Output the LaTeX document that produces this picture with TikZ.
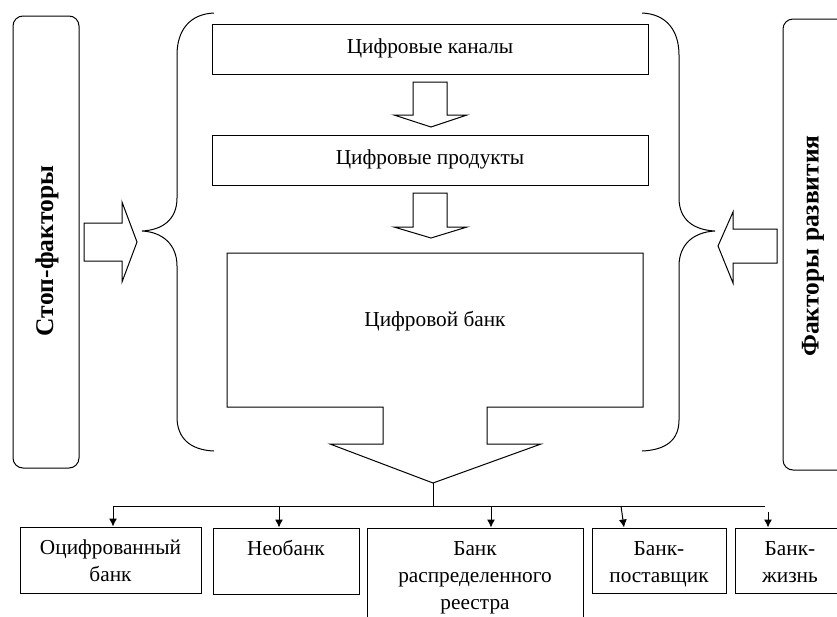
\documentclass[tikz,border=0pt]{standalone}
\usepackage{fontspec}
\setmainfont{Liberation Serif}
\usetikzlibrary{arrows.meta}
\begin{document}
\begin{tikzpicture}[x=1pt,y=-1pt, line width=1pt,
  box/.style={draw, rectangle, inner sep=0pt},
  rbox/.style={draw, rectangle, rounded corners=10pt, inner sep=0pt},
  lbl/.style={font=\fontsize{21.3}{27}\selectfont, align=center, inner sep=0pt},
  vlbl/.style={font=\fontsize{25.5}{29}\selectfont\bfseries, rotate=90, inner sep=0pt},
  conn/.style={-{Latex[length=8pt,width=8pt]}},
  blk/.style={draw, fill=white, line join=miter},
  brace/.style={draw}]
\useasboundingbox (0,0) rectangle (837,616);
\clip (0,0) rectangle (837,616);

% side boxes
\node[rbox, minimum width=66pt, minimum height=452pt] (stop) at (46,242) {};
\node[vlbl] (stoptxt) at (47,251) {Стоп-факторы};
\node[rbox, minimum width=72pt, minimum height=451pt] (dev) at (819,244.5) {};
\node[vlbl] (devtxt) at (813,246) {Факторы развития};

% braces
\draw[brace] (214,13) .. controls (190,14) and (177,30) .. (177,55) -- (177,198)
  .. controls (177,220) and (162,230) .. (142,231)
  .. controls (162,232) and (177,244) .. (177,266) -- (177,417)
  .. controls (177,438) and (190,450) .. (214,451);
\draw[brace] (642,13) .. controls (666,14) and (679,30) .. (679,55) -- (679,198)
  .. controls (679,220) and (694,230) .. (715,231)
  .. controls (694,232) and (679,244) .. (679,266) -- (679,420)
  .. controls (679,440) and (666,450) .. (642,451);

% block arrows left / right
\draw[blk] (84,223) -- (122,223) -- (122,202) -- (137,242) -- (122,282) -- (122,261) -- (84,261) -- cycle;
\draw[blk] (777,229) -- (733,229) -- (733,212) -- (718,246) -- (733,283) -- (733,263) -- (777,263) -- cycle;

% top boxes
\node[box, minimum width=436pt, minimum height=50pt] (chan) at (430,49) {};
\node[lbl] (chantxt) at (430,48) {Цифровые каналы};
\node[box, minimum width=436pt, minimum height=50pt] (prod) at (430,160) {};
\node[lbl] (prodtxt) at (430,159) {Цифровые продукты};

% down block arrows
\draw[blk] (413,82) -- (447,82) -- (447,115) -- (467,115) -- (431,127) -- (394,115) -- (413,115) -- cycle;
\draw[blk] (413,193) -- (447,193) -- (447,227) -- (467,227) -- (431,238) -- (394,227) -- (413,227) -- cycle;

% digital bank
\coordinate (tip) at (433,483);
\draw[blk] (227,253) -- (643,253) -- (643,407) -- (487,407) -- (487,444) -- (541,444) -- (tip)
  -- (330,444) -- (383,444) -- (383,407) -- (227,407) -- cycle;
\node[lbl, anchor=base] (banktxt) at (435,326) {Цифровой банк};

% distribution
\coordinate (split) at (433,506);
\coordinate (hl) at (113,506);
\coordinate (hr) at (765,506);
\coordinate (a2) at (279,506);
\coordinate (a3) at (491,506);
\coordinate (a4) at (621,506);
\coordinate (a5) at (768,512);
\draw (tip) -- (split);
\draw (hl) -- (hr);

% bottom boxes
\node[box, minimum width=181pt, minimum height=66pt] (b1) at (110.5,560) {};
\node[box, minimum width=146pt, minimum height=66pt] (b2) at (286,561) {};
\node[box, minimum width=216pt, minimum height=112pt] (b3) at (475,584) {};
\node[box, minimum width=134pt, minimum height=65pt] (b4) at (659,560.5) {};
\node[box, minimum width=110pt, minimum height=65pt] (b5) at (790,560.5) {};

\node[lbl, anchor=north] (t1) at ([yshift=-9pt]b1.north) {\strut Оцифрованный\\банк};
\node[lbl, anchor=north] (t2) at ([yshift=-9pt]b2.north) {\strut Необанк};
\node[lbl, anchor=north] (t3) at ([yshift=-9pt]b3.north) {\strut Банк\\распределенного\\реестра};
\node[lbl, anchor=north] (t4) at ([yshift=-9pt]b4.north) {\strut Банк-\\поставщик};
\node[lbl, anchor=north] (t5) at ([yshift=-9pt]b5.north) {\strut Банк-\\жизнь};

\draw[conn] (hl) -- (hl |- b1.north);
\draw[conn] (a2) -- (a2 |- b2.north);
\draw[conn] (a3) -- (a3 |- b3.north);
\draw[conn] (a4) -- ([xshift=3pt]a4 |- b4.north);
\draw[conn] (a5) -- (a5 |- b5.north);
\end{tikzpicture}
\end{document}
